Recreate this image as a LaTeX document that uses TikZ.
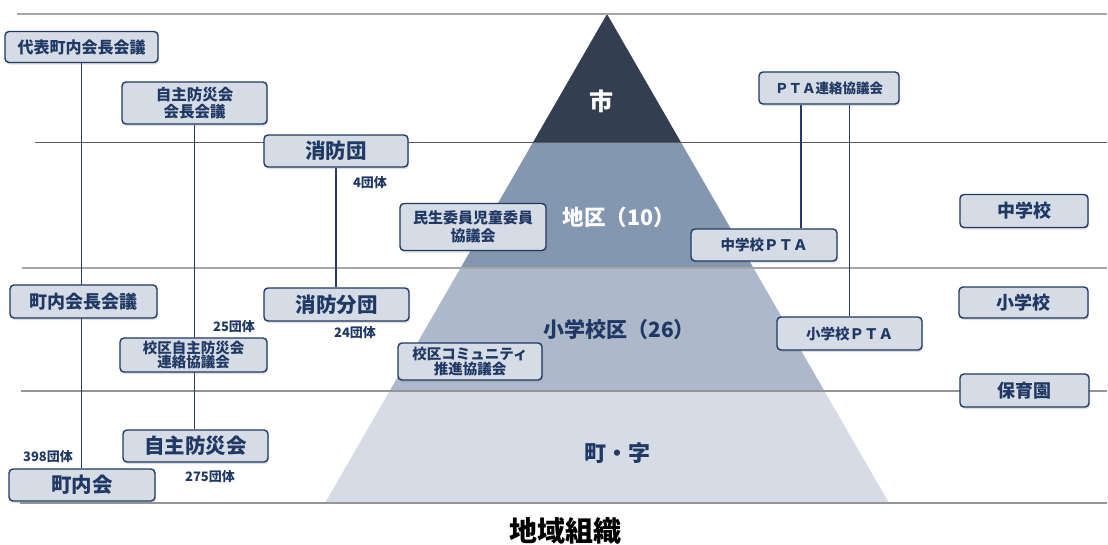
\documentclass[tikz,border=0pt]{standalone}
\usepackage{fontspec}
\setmainfont{Noto Sans CJK JP}
\usetikzlibrary{shadows}
\pgfdeclarelayer{bg}
\pgfdeclarelayer{mid}
\pgfsetlayers{bg,mid,main}
\definecolor{navy}{HTML}{1F3864}
\definecolor{conn}{HTML}{26396A}
\definecolor{boxfill}{HTML}{D6DCE5}
\definecolor{lay1}{HTML}{333F50}
\definecolor{lay2}{HTML}{8497B0}
\definecolor{lay3}{HTML}{ADB9CA}
\definecolor{lay4}{HTML}{D6DCE5}
\definecolor{lgray}{HTML}{A6A6A6}
\definecolor{dgray}{HTML}{595959}
\newcommand{\fs}[1]{\fontsize{#1}{#1}\selectfont}
\tikzset{
  orgbox/.style={draw=navy, line width=1.4pt, fill=boxfill, rounded corners=4pt,
    text=navy, font=\bfseries, align=center, inner sep=0pt,
    drop shadow={opacity=0.25, shadow xshift=1pt, shadow yshift=-2pt}},
  cnt/.style={text=navy, font=\bfseries\fs{13}, inner sep=0pt},
  conn/.style={draw=conn, line width=1.4pt},
  hline/.style={draw=lgray, line width=2pt},
  lbl/.style={font=\bfseries, inner sep=0pt}
}
\begin{document}
\begin{tikzpicture}[x=1pt,y=-1pt]
\useasboundingbox (0,0) rectangle (1108,544);
\begin{pgfonlayer}{bg}
% pyramid
\begin{scope}
  \clip (607,14) -- (325,503) -- (889,503) -- cycle;
  \fill[lay1] (300,0) rectangle (900,142);
  \fill[lay2] (300,142) rectangle (900,268);
  \fill[lay3] (300,268) rectangle (900,391);
  \fill[lay4] (300,391) rectangle (900,503);
\end{scope}
% horizontal lines
\coordinate (t1) at (17,14);  \coordinate (t2) at (1107,14);
\coordinate (l1) at (35,142); \coordinate (l2) at (1107,142);
\coordinate (m1) at (22,268); \coordinate (m2) at (1107,268);
\coordinate (n1) at (21,391); \coordinate (n2) at (1107,391);
\coordinate (b1) at (20,503); \coordinate (b2) at (1107,503);
\draw[hline] (t1) -- (t2);
\draw[draw=dgray, line width=1pt] (l1) -- (l2);
\draw[hline, line width=1.8pt] (m1) -- (m2);
\draw[hline, line width=1.6pt, draw=lgray!90!black] (n1) -- (n2);
\draw[hline, line width=1.6pt, draw=lgray!90!black] (b1) -- (b2);
\end{pgfonlayer}
% layer labels
\node[lbl, text=white, font=\bfseries\fs{24}] (shi) at (601,101) {市};
\node[lbl, text=white, font=\bfseries\fs{21.5}] (chiku) at (619,217) {地区（10）};
\node[lbl, text=navy, font=\bfseries\fs{21}] (shoku) at (619,330) {小学校区（26）};
\node[lbl, text=navy, font=\bfseries\fs{22}] (machi) at (617,453) {町・字};
\node[lbl, text=black, font=\bfseries\fs{28}] (title) at (565,531) {地域組織};
% count labels
\node[cnt] (c4) at (370,183) {4団体};
\node[cnt] (c25) at (234,327) {25団体};
\node[cnt] (c24) at (355,333) {24団体};
\node[cnt] (c398) at (48,457) {398団体};
\node[cnt] (c275) at (210,477) {275団体};
% boxes
\path
 (81.5,47) node[orgbox, minimum width=153pt, minimum height=31pt, font=\bfseries\fs{16}] (dai) {代表町内会長会議}
 (194.5,103) node[orgbox, minimum width=145pt, minimum height=42pt, font=\bfseries\fs{15.5}] (jikai) {自主防災会\\[2pt]会長会議}
 (336,151) node[orgbox, minimum width=144pt, minimum height=32pt, font=\bfseries\fs{20.5}] (shobo) {消防団}
 (473,227) node[orgbox, minimum width=146pt, minimum height=47pt, font=\bfseries\fs{15}] (minsei) {民生委員児童委員\\[3pt]協議会}
 (764,245) node[orgbox, minimum width=146pt, minimum height=32pt, font=\bfseries\fs{14.5}] (chupta) {中学校ＰＴＡ}
 (829,88) node[orgbox, minimum width=140pt, minimum height=32pt, font=\bfseries\fs{13.5}] (pta) {ＰＴＡ連絡協議会}
 (1024,211) node[orgbox, minimum width=128pt, minimum height=33pt, font=\bfseries\fs{18}] (chu) {中学校}
 (1023.5,302.5) node[orgbox, minimum width=129pt, minimum height=31pt, font=\bfseries\fs{18}] (sho) {小学校}
 (1024.5,390.5) node[orgbox, minimum width=129pt, minimum height=33pt, font=\bfseries\fs{18}] (hoiku) {保育園}
 (849.5,333.5) node[orgbox, minimum width=145pt, minimum height=33pt, font=\bfseries\fs{14.5}] (shopta) {小学校ＰＴＡ}
 (470,361.5) node[orgbox, minimum width=144pt, minimum height=37pt, font=\bfseries\fs{14.5}] (komi) {校区コミュニティ\\[1pt]推進協議会}
 (83.5,301.5) node[orgbox, minimum width=147pt, minimum height=33pt, font=\bfseries\fs{18}] (chokai) {町内会長会議}
 (336.5,304.5) node[orgbox, minimum width=145pt, minimum height=33pt, font=\bfseries\fs{20.5}] (bundan) {消防分団}
 (193.5,355) node[orgbox, minimum width=147pt, minimum height=34pt, font=\bfseries\fs{14.5}] (kouku) {校区自主防災会\\[0pt]連絡協議会}
 (195.5,446) node[orgbox, minimum width=145pt, minimum height=32pt, font=\bfseries\fs{20.5}] (jishu) {自主防災会}
 (82,485) node[orgbox, minimum width=146pt, minimum height=32pt, font=\bfseries\fs{20.5}] (chonai) {町内会};
% connectors (behind boxes)
\begin{pgfonlayer}{mid}
\draw[conn] (dai.south) -- (dai.south |- chonai.north);
\draw[conn] (jikai.south) -- (jikai.south |- jishu.north);
\draw[conn] (shobo.south) -- (shobo.south |- bundan.north);
\draw[conn] ([xshift=-28pt]pta.south) -- ([xshift=-28pt]pta.south |- chupta.north);
\draw[conn] (shopta.north |- pta.south) -- (shopta.north);
\end{pgfonlayer}
\end{tikzpicture}
\end{document}
